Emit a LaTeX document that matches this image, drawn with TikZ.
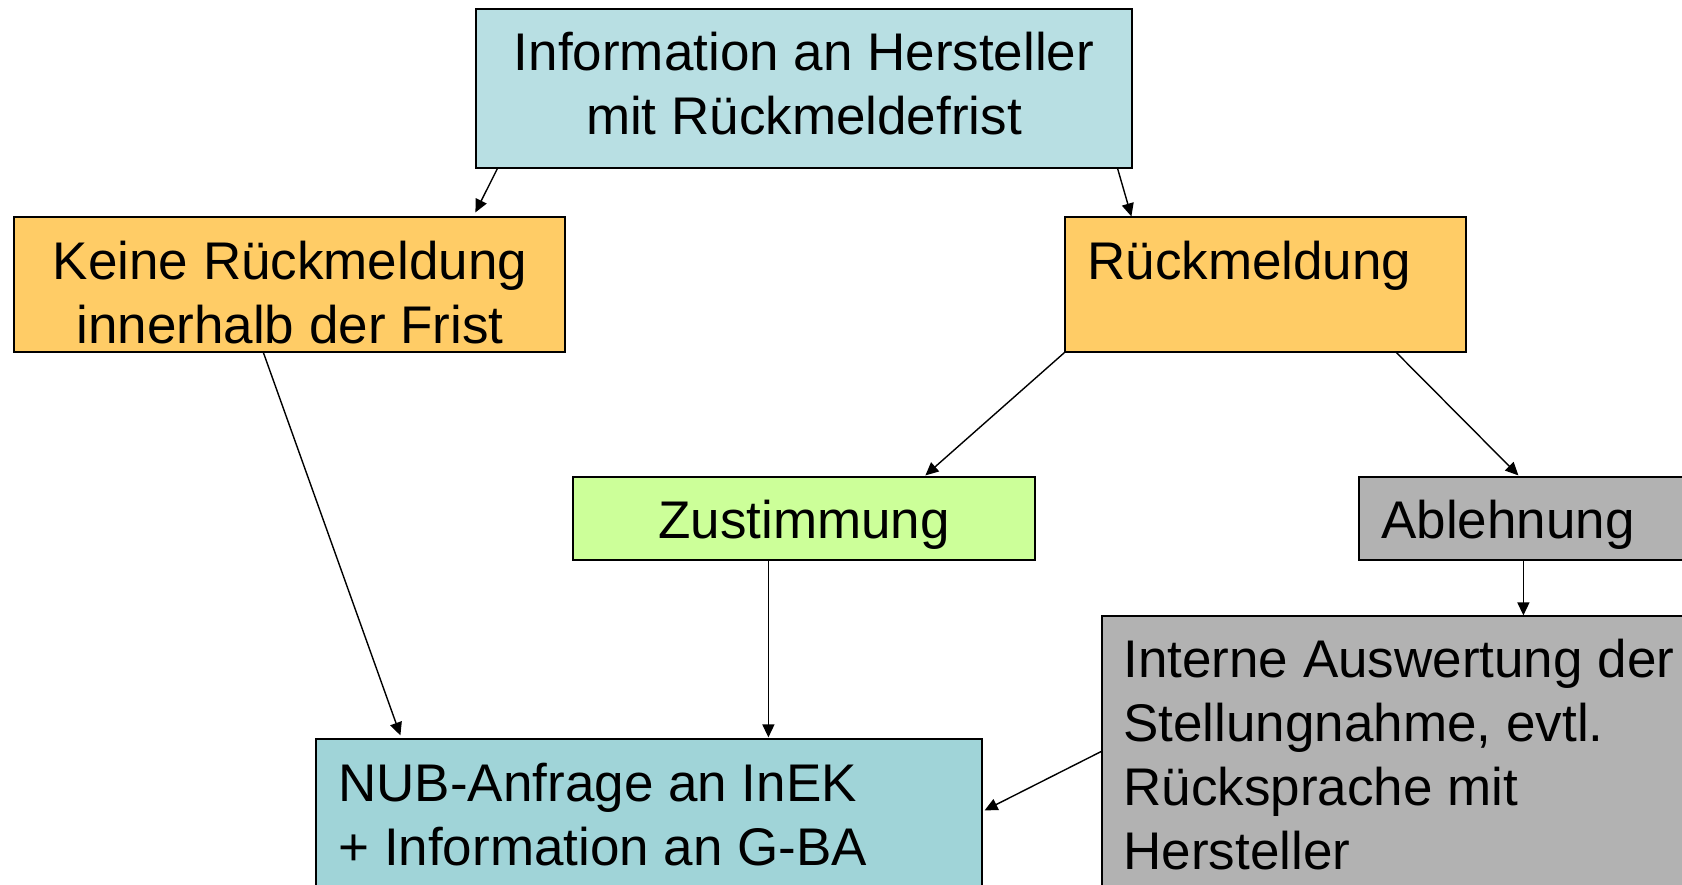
\documentclass[tikz,border=0pt]{standalone}
\usepackage{fontspec}
\setmainfont{Liberation Sans}
\usetikzlibrary{arrows.meta,calc}
\definecolor{topblue}{HTML}{B8DFE3}
\definecolor{nubblue}{HTML}{A0D4D8}
\definecolor{orangebox}{HTML}{FFCC66}
\definecolor{greenbox}{HTML}{CCFF99}
\definecolor{graybox}{HTML}{B2B2B2}
\newcommand{\mylinesL}[1]{\begin{tabular}[t]{@{}l@{}}#1\end{tabular}}
\newcommand{\mylinesC}[1]{\begin{tabular}[t]{@{}c@{}}#1\end{tabular}}
\tikzset{
  box/.style={draw=black, line width=0.6pt, rectangle, inner sep=0pt},
  txt/.style={inner sep=0pt, font=\fontsize{26.5}{32}\selectfont},
  arr/.style={line width=0.7pt, -{Triangle[length=6.5pt,width=6pt]}}
}
\begin{document}
\begin{tikzpicture}[x=0.5pt,y=-0.5pt]
\useasboundingbox (0,0) rectangle (1682,884);
\clip (0,0) rectangle (1682,884);
\fill[white] (0,0) rectangle (1682,884);
% boxes
\node[box, fill=topblue,   minimum width=328pt, minimum height=79.5pt] (top)     at (804,88.5) {};
\node[box, fill=orangebox, minimum width=275.5pt, minimum height=67.5pt] (keine)  at (289.5,284.5) {};
\node[box, fill=orangebox, minimum width=200.5pt, minimum height=67.5pt] (rueck)  at (1265.5,284.5) {};
\node[box, fill=greenbox,  minimum width=231pt, minimum height=41.5pt] (zust)     at (804,518.5) {};
\node[box, fill=graybox,   minimum width=180.5pt, minimum height=41.5pt] (ablehn) at (1539.5,518.5) {};
\node[box, fill=graybox,   minimum width=309pt, minimum height=152pt] (interne)   at (1411,768) {};
\node[box, fill=nubblue,   minimum width=333pt, minimum height=90.5pt] (nub)      at (649,829.5) {};
% texts
\node[txt, anchor=base] (topT) at (804,70) {\mylinesC{Information an Hersteller\\mit Rückmeldefrist}};
\node[txt, anchor=base] (keineT) at (290,279) {\mylinesC{Keine Rückmeldung\\innerhalb der Frist}};
\node[txt, anchor=base west] (rueckT) at (1087,279) {Rückmeldung};
\node[txt, anchor=base] (zustT) at (804,538) {Zustimmung};
\node[txt, anchor=base west] (ablehnT) at (1381,538) {Ablehnung};
\node[txt, anchor=base west] (interneT) at (1123,677) {\mylinesL{Interne Auswertung der\\Stellungnahme, evtl.\\Rücksprache mit\\Hersteller}};
\node[txt, anchor=base west] (nubT) at (338,801) {\mylinesL{NUB-Anfrage an InEK\\+ Information an G-BA}};
% connectors
\draw[arr] ($(top.south west)+(22,0)$) -- ($(keine.north west)+(462,-4)$);
\draw[arr] ($(top.south east)+(-15,0)$) -- ($(rueck.north west)+(67,0)$);
\draw[arr] ($(keine.south west)+(250,0)$) -- ($(nub.north west)+(85,-3)$);
\draw[arr] (rueck.south west) -- ($(zust.north west)+(353,-1)$);
\draw[arr] ($(rueck.south west)+(332,0)$) -- ($(ablehn.north west)+(160,-1)$);
\draw[arr] ($(ablehn.south west)+(165,0)$) -- ($(interne.north west)+(422,0)$);
\draw[arr] ($(zust.south west)+(196,0)$) -- ($(nub.north west)+(453,-1)$);
\draw[arr] ($(interne.north west)+(0,136)$) -- ($(nub.north east)+(2,72)$);
\end{tikzpicture}
\end{document}
